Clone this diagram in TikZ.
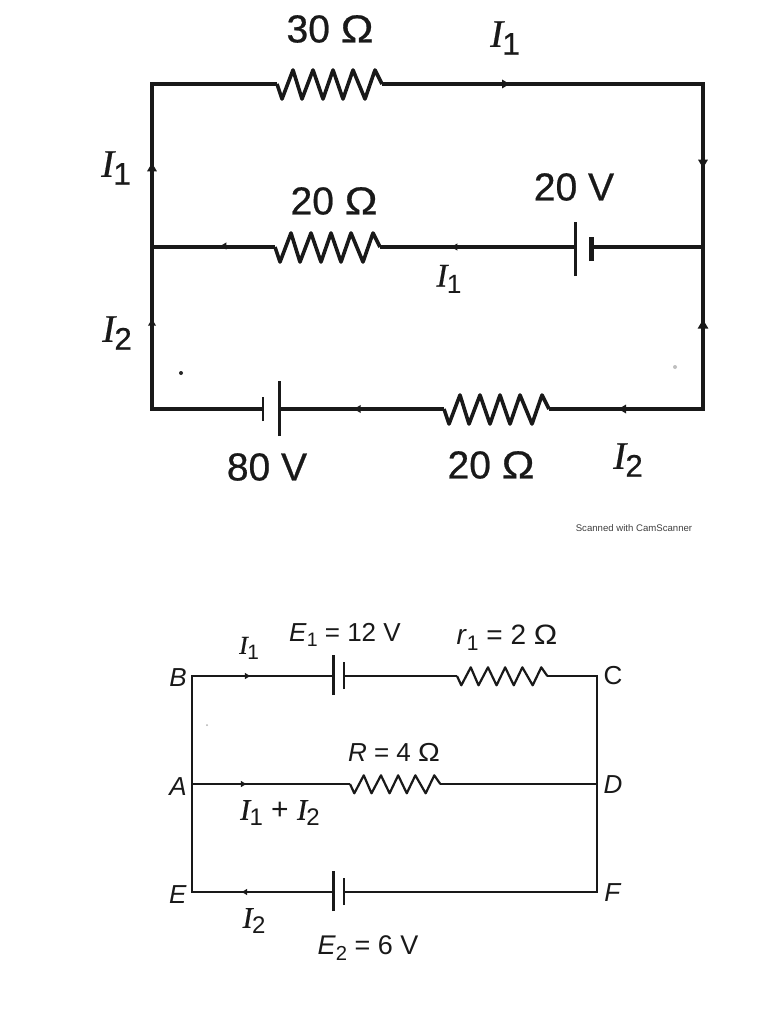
\documentclass[tikz,border=0pt]{standalone}
\usepackage{fontspec}
\setmainfont{Liberation Sans}
\newfontfamily\ifont[FakeBold=0.5]{Liberation Serif}
\newcommand\cur[1]{{\ifont\itshape I}\kern-0.02em\raisebox{-0.2em}{\scalebox{0.8}{#1}}}
\newcommand\sbs[1]{\raisebox{-0.2em}{\scalebox{0.75}{#1}}}
\newcommand\om{\scalebox{1.12}[1]{Ω}}
\newcommand\bigfont{\fontsize{39}{39}\selectfont\addfontfeature{FakeBold=0.6}}
\newcommand\smallfont{\fontsize{26}{26}\selectfont}
\newcommand\zigzag[5]{%
  \coordinate (#1l) at (#2,#3);
  \coordinate (#1r) at ({#2+105*#4},#3);
  \draw[shift={(#2,#3)},xscale=#4,#5] (0,0) -- (5,15) -- (16,-14) -- (25,15) -- (36,-14) -- (46,15) -- (56,-14) -- (66,15) -- (76,-14) -- (88,15) -- (98,-14) -- (105,0);
}
\newcommand\tipat[4]{\fill[black!90,shift={(#1,#2)},rotate=#3,scale=#4] (4.5,0) -- (-3,4.5) -- (-3,-4.5) -- cycle;}
\tikzset{
  thick wire/.style={line width=3.4pt,line join=miter,line cap=butt,black!90},
  thin wire/.style={line width=2.2pt,line join=miter,line cap=butt,black!90},
  zig big/.style={line width=3.6pt,line join=round,black!90},
  zig small/.style={line width=2.2pt,line join=round,black!90,yscale=0.62},
  big label/.style={font=\bigfont,inner sep=0pt,black!90},
  small label/.style={font=\smallfont,inner sep=0pt,black!90},
}
\begin{document}
\begin{tikzpicture}[x=1pt,y=-1pt]
\useasboundingbox (0,0) rectangle (768,1024);
\fill[white] (0,0) rectangle (768,1024);

% upper circuit
\coordinate (TL) at (152,84);
\coordinate (TR) at (703,84);
\coordinate (ML) at (152,247);
\coordinate (MR) at (703,247);
\coordinate (BL) at (152,409);
\coordinate (BR) at (703,409);
\zigzag{ra}{277}{84}{1}{zig big}
\zigzag{rb}{275}{247}{1}{zig big}
\zigzag{rc}{444}{409}{1}{zig big}
\coordinate (va) at (575,247);
\coordinate (vb) at (591,247);
\coordinate (wa) at (279,409);
\coordinate (wb) at (263,409);
\draw[thick wire] (ral) -- (TL) -- (BL) -- (wb);
\draw[thick wire] (rar) -- (TR) -- (BR) -- (rcr);
\draw[thick wire] (ML) -- (rbl);
\draw[thick wire] (rbr) -- (va);
\draw[thick wire] (vb) -- (MR);
\draw[thick wire] (wa) -- (rcl);
\draw[line width=3pt,black!90] ([yshift=-29pt]va) -- ([yshift=25pt]va);
\draw[line width=5pt,black!90] ([yshift=-14pt]vb) -- ([yshift=10pt]vb);
\draw[line width=3pt,black!90] ([yshift=-27pt]wa) -- ([yshift=28pt]wa);
\draw[line width=2.6pt,black!90] ([yshift=-12pt]wb) -- ([yshift=12pt]wb);
\tipat{152}{168}{90}{1.1}
\tipat{703}{163}{-90}{1.1}
\tipat{152}{323}{90}{0.9}
\tipat{703}{325}{90}{1.2}
\tipat{505}{84}{0}{1}
\tipat{224}{246}{180}{0.8}
\tipat{455}{247}{180}{0.8}
\tipat{358}{409}{180}{0.9}
\tipat{623}{409}{180}{1}

\node[big label] (l30) at (330,29) {30 \om};
\node[big label] (li1a) at (505,38) {\cur{1}};
\node[big label] (li1b) at (116,168) {\cur{1}};
\node[big label] (l20a) at (334,201) {20 \om};
\node[big label] (l20v) at (574,187) {20 V};
\node[font=\fontsize{33}{33}\selectfont,inner sep=0pt,black!90] (li1c) at (449,279) {\cur{1}};
\node[big label] (li2a) at (117,333) {\cur{2}};
\node[big label] (l80) at (267,467) {80 V};
\node[big label] (l20b) at (491,465) {20 \om};
\node[big label] (li2b) at (628,460) {\cur{2}};
\node[font=\fontsize{9.6}{10}\selectfont,inner sep=0pt,black!75] (scan) at (634,528) {Scanned with CamScanner};
\fill[black!85] (181,373) circle (2pt);
\fill[black!25] (675,367) circle (2pt);

% lower circuit
\coordinate (B) at (192,676);
\coordinate (C) at (597,676);
\coordinate (A) at (192,784);
\coordinate (D) at (597,784);
\coordinate (E) at (192,892);
\coordinate (F) at (597,892);
\zigzag{rd}{457}{676}{0.86}{zig small}
\zigzag{re}{350}{784}{0.86}{zig small}
\coordinate (xa) at (333,676);
\coordinate (xb) at (344,676);
\coordinate (ya) at (333,892);
\coordinate (yb) at (344,892);
\draw[thin wire] (xa) -- (B) -- (E) -- (ya);
\draw[thin wire] (rdr) -- (C) -- (F) -- (yb);
\draw[thin wire] (xb) -- (rdl);
\draw[thin wire] (A) -- (rel);
\draw[thin wire] (rer) -- (D);
\draw[line width=3pt,black!90] ([yshift=-19pt]xa) -- ([yshift=21pt]xa);
\draw[line width=2.2pt,black!90] ([yshift=-13pt]xb) -- ([yshift=14pt]xb);
\draw[line width=3pt,black!90] ([yshift=-19pt]ya) -- ([yshift=21pt]ya);
\draw[line width=2.2pt,black!90] ([yshift=-13pt]yb) -- ([yshift=14pt]yb);
\tipat{247}{676}{0}{0.7}
\tipat{243}{784}{0}{0.7}
\tipat{245}{892}{180}{0.7}

\node[small label] (e1) at (345,635) {\textit{E}\sbs{1} = 12 V};
\node[small label,font=\fontsize{28}{28}\selectfont] (r1) at (507,638) {\textit{r}\sbs{1} = 2 \om};
\node[small label] (rr) at (394,752) {\textit{R} = 4 \om};
\node[small label] (ci1) at (249,648) {\cur{1}};
\node[small label,font=\fontsize{30}{30}\selectfont] (ci12) at (280,813) {\cur{1} + \cur{2}};
\node[small label,font=\fontsize{30}{30}\selectfont] (ci2) at (254,921) {\cur{2}};
\node[small label,font=\fontsize{27}{27}\selectfont] (e2) at (368,948) {\textit{E}\sbs{2} = 6 V};
\node[small label] (nB) at (178,678) {\textit{B}};
\node[small label] (nC) at (613,676) {C};
\node[small label] (nA) at (178,787) {\textit{A}};
\node[small label] (nD) at (613,785) {\textit{D}};
\node[small label] (nE) at (178,895) {\textit{E}};
\node[small label] (nF) at (613,893) {\textit{F}};
\fill[black!30] (207,725) circle (1pt);
\end{tikzpicture}
\end{document}
